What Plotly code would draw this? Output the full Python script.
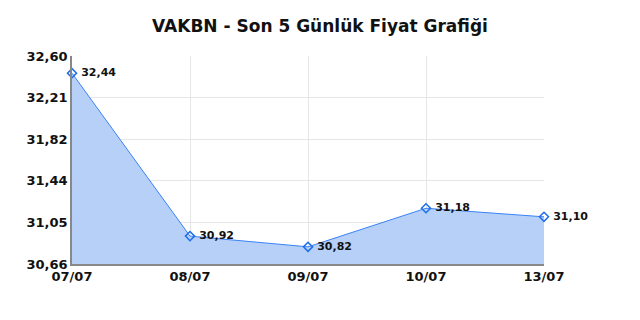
import plotly.graph_objects as go

dates = ["07/07", "08/07", "09/07", "10/07", "13/07"]
prices = [32.44, 30.92, 30.82, 31.18, 31.10]
price_labels = ["32,44", "30,92", "30,82", "31,18", "31,10"]
y_tickvals = [30.66, 31.048, 31.436, 31.824, 32.212, 32.60]
y_ticktext = ["30,66", "31,05", "31,44", "31,82", "32,21", "32,60"]

fig = go.Figure()
fig.add_trace(go.Scatter(
    x=dates, y=prices,
    mode="lines+markers+text",
    fill="tozeroy",
    fillcolor="rgba(178,205,248,0.95)",
    line=dict(color="#3b82f6", width=1),
    marker=dict(symbol="diamond-open", size=7, color="#1f6feb", line=dict(width=1.5)),
    text=[" " + t for t in price_labels],
    textposition="middle right",
    textfont=dict(family="DejaVu Sans", size=11, color="#111111", weight="bold"),
    cliponaxis=False,
    hoverinfo="skip",
))

fig.update_layout(
    width=640, height=320,
    margin=dict(l=72, r=96, t=56, b=56),
    paper_bgcolor="white", plot_bgcolor="white",
    showlegend=False,
    title=dict(text="<b>VAKBN - Son 5 Günlük Fiyat Grafiği</b>", x=0.5, xanchor="center",
               y=0.92, yanchor="middle",
               font=dict(family="DejaVu Sans", size=17, color="#111111")),
)
fig.update_xaxes(
    type="category", range=[0, 4],
    showgrid=True, gridcolor="#e6e6e6", gridwidth=1,
    showline=True, linecolor="#888888", linewidth=1.5,
    ticks="", tickfont=dict(family="DejaVu Sans", size=13, color="#111111", weight="bold"),
    mirror=False, zeroline=False,
)
fig.update_yaxes(
    range=[30.66, 32.60],
    tickvals=y_tickvals, ticktext=y_ticktext,
    showgrid=True, gridcolor="#e6e6e6", gridwidth=1,
    showline=True, linecolor="#888888", linewidth=1.5,
    ticks="", tickfont=dict(family="DejaVu Sans", size=13, color="#111111", weight="bold"),
    zeroline=False,
)
fig.write_html("out.html")
